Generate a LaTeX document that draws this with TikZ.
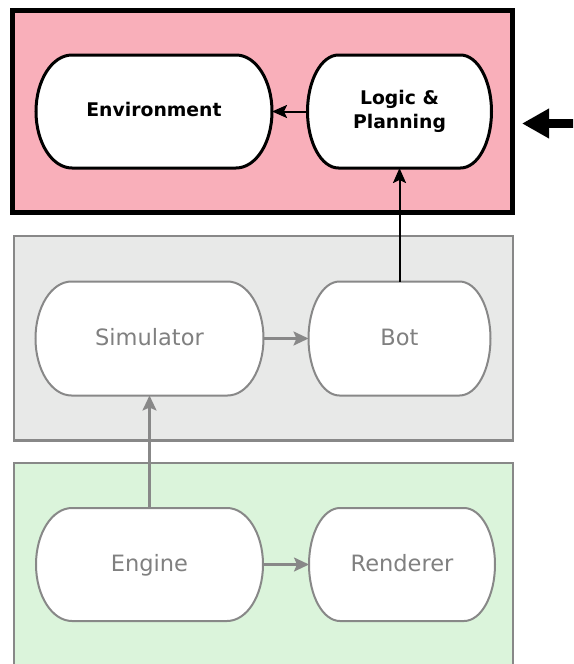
\documentclass[tikz,border=0pt]{standalone}
\usepackage{fontspec}
\setmainfont{DejaVu Sans}
\usetikzlibrary{arrows.meta,calc}

\definecolor{pinkfill}{RGB}{249,175,186}
\definecolor{greyfill}{RGB}{232,233,232}
\definecolor{greenfill}{RGB}{219,244,219}
\definecolor{greyline}{RGB}{136,136,136}
\definecolor{greytext}{RGB}{128,128,128}

\pgfdeclarelayer{boxes}
\pgfdeclarelayer{pills}
\pgfsetlayers{boxes,pills,main}

% Outline of a pill: flat top and bottom, half-elliptic ends.
% #1 node name, #2 depth of the rounded end, #3 half height, #4 style
\newcommand\pilloutline[4]{%
  \draw[#4] ($(#1.north west)+(#2,0)$) -- ($(#1.north east)+(-#2,0)$)
    .. controls +(0.5523*#2,0) and +(0,-0.5523*#3) .. (#1.east)
    .. controls +(0,0.5523*#3) and +(0.5523*#2,0) .. ($(#1.south east)+(-#2,0)$)
    -- ($(#1.south west)+(#2,0)$)
    .. controls +(-0.5523*#2,0) and +(0,0.5523*#3) .. (#1.west)
    .. controls +(0,-0.5523*#3) and +(-0.5523*#2,0) .. ($(#1.north west)+(#2,0)$)
    -- cycle;}

\tikzset{
  panel/.style={rectangle, outer sep=0pt, inner sep=0pt},
  redpanel/.style={panel, draw=black, line width=5pt, fill=pinkfill},
  greypanel/.style={panel, draw=greyline, line width=2.5pt, fill=greyfill},
  greenpanel/.style={panel, draw=greyline, line width=2.5pt, fill=greenfill},
  pilltext/.style={rectangle, outer sep=0pt, inner sep=0pt, align=center},
  toplabel/.style={pilltext, font=\fontsize{18.8}{24}\selectfont\bfseries, text=black},
  oneline/.style={text height=14pt, text depth=4pt},
  lowlabel/.style={pilltext, font=\fontsize{22.5}{27}\selectfont, text=greytext,
    text height=17pt, text depth=4pt},
  blackpill/.style={draw=black, line width=3pt, fill=white},
  greypill/.style={draw=greyline, line width=2pt, fill=white},
  blackarrow/.style={draw=black, line width=2pt, -{Stealth[length=15pt,width=13pt,inset=3pt]}},
  greyarrow/.style={draw=greyline, line width=2.2pt, -{Stealth[length=15pt,width=14pt,inset=3pt]}},
  bigarrow/.style={draw=black, line width=9.5pt, -{Triangle[length=27pt,width=28pt]}},
}

\begin{document}
\begin{tikzpicture}[x=1pt, y=-1pt]
  \useasboundingbox (0,0) rectangle (573,664);
  \clip (0,0) rectangle (573,664);

  % pill labels
  \node[toplabel, oneline, minimum width=236pt, minimum height=113pt] (env) at (154,111.5) {Environment};
  \node[toplabel, minimum width=184pt, minimum height=113pt] (logic) at (399.5,111.5) {Logic \&\\Planning};
  \node[lowlabel, minimum width=228pt, minimum height=114pt] (sim) at (149.5,338.5) {Simulator};
  \node[lowlabel, minimum width=182pt, minimum height=114pt] (bot) at (399.5,338.5) {Bot};
  \node[lowlabel, minimum width=227pt, minimum height=113pt] (engine) at (149.5,564.5) {Engine};
  \node[lowlabel, minimum width=186pt, minimum height=113pt] (renderer) at (402,564.5) {Renderer};

  % layer panels
  \begin{pgfonlayer}{boxes}
    \node[redpanel, minimum width=500pt, minimum height=202.5pt] (toppanel) at (262.5,111.25) {};
    \node[greypanel, minimum width=499pt, minimum height=204.7pt] (midpanel) at (263.5,338.35) {};
    \node[greenpanel, minimum width=499pt, minimum height=230pt] (lowpanel) at (263.5,578) {};
  \end{pgfonlayer}

  % pill outlines
  \begin{pgfonlayer}{pills}
    \pilloutline{env}{36}{56.5}{blackpill}
    \pilloutline{logic}{31}{56.5}{blackpill}
    \pilloutline{sim}{36}{57}{greypill}
    \pilloutline{bot}{31}{57}{greypill}
    \pilloutline{engine}{36}{56.5}{greypill}
    \pilloutline{renderer}{31}{56.5}{greypill}
  \end{pgfonlayer}

  % connectors
  \draw[blackarrow] (logic.west) -- (env.east);
  \draw[blackarrow] (bot.north) -- (logic.south);
  \draw[greyarrow] (sim.east) -- (bot.west);
  \draw[greyarrow] (engine.north) -- (sim.south);
  \draw[greyarrow] (engine.east) -- (renderer.west);

  % incoming arrow on the right
  \coordinate (feedtail) at (585,123.5);
  \coordinate (feedtip) at (522,123.5);
  \draw[bigarrow] (feedtail) -- (feedtip);
\end{tikzpicture}
\end{document}
